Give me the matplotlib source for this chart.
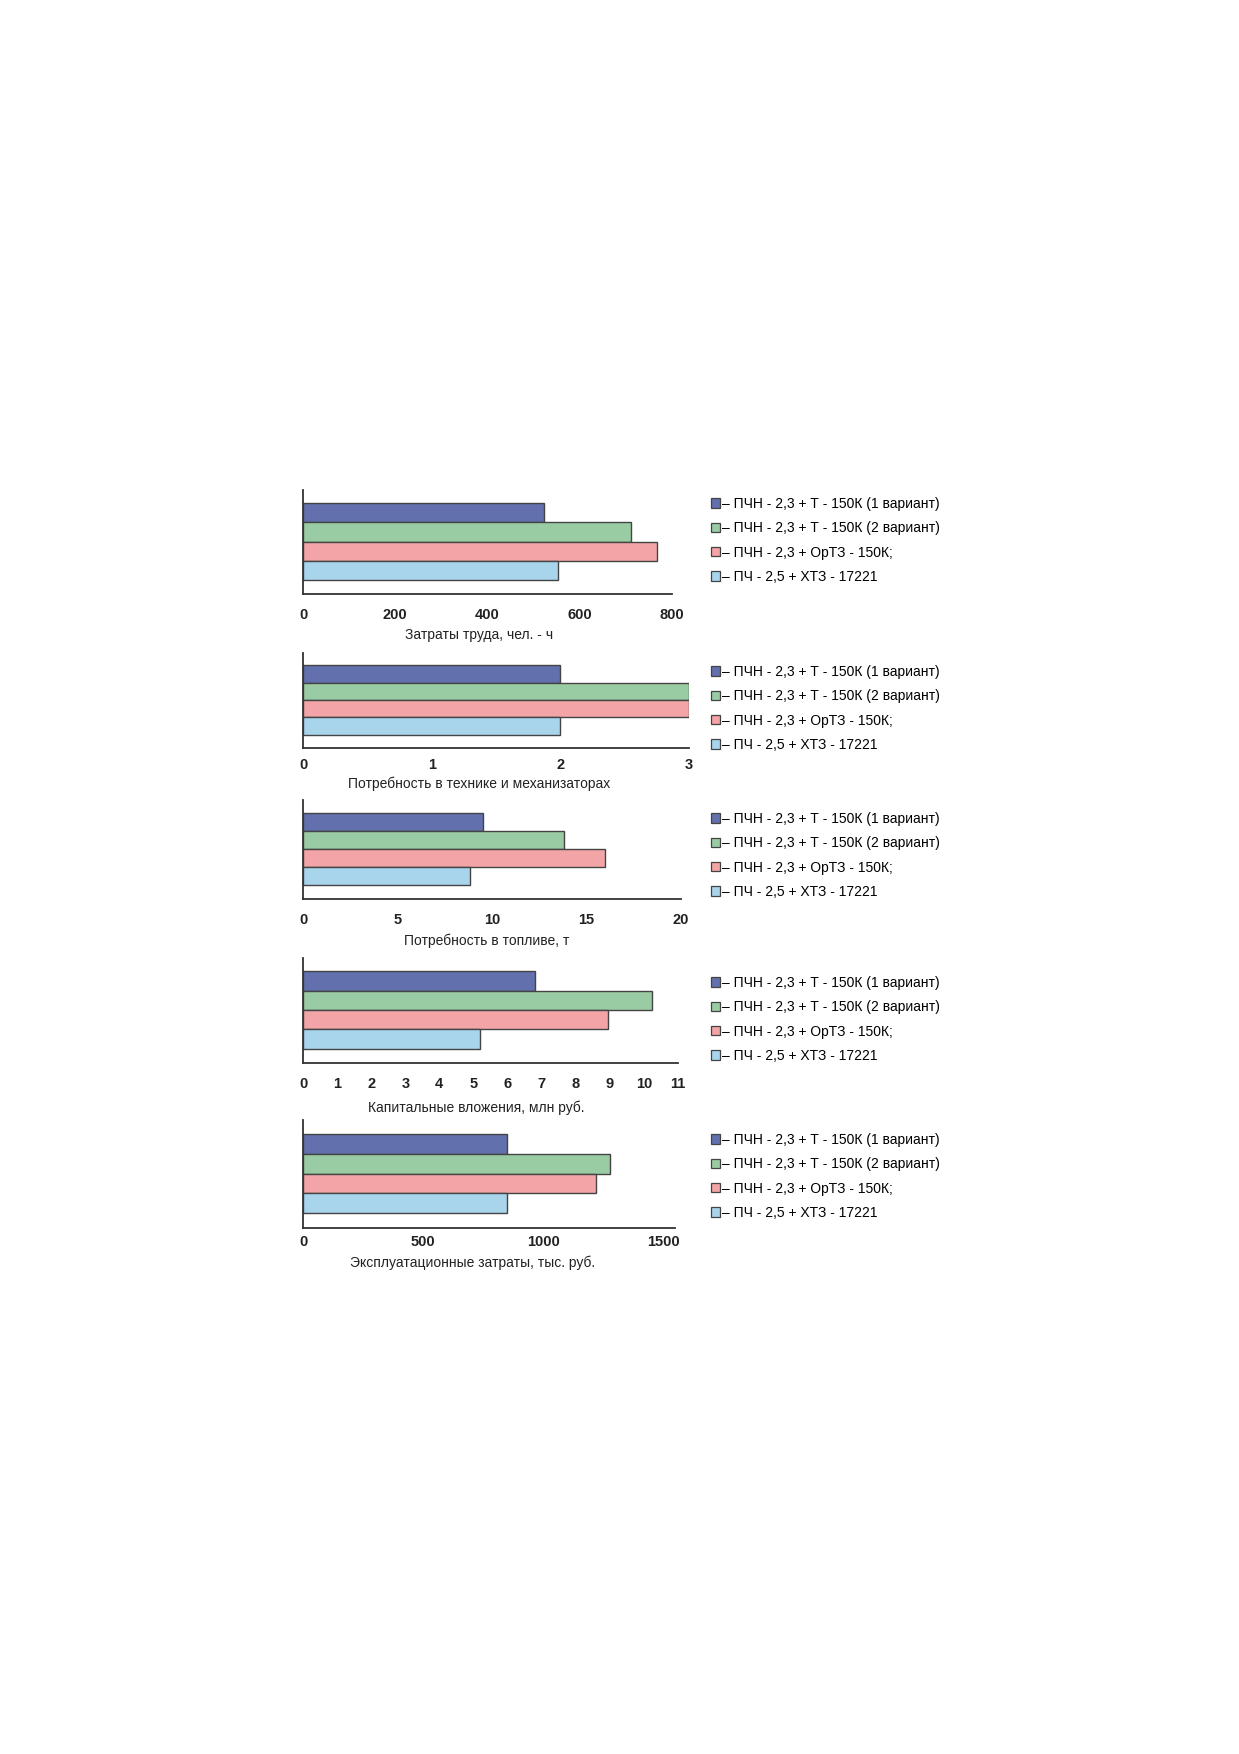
import matplotlib
matplotlib.use('Agg')
import matplotlib.pyplot as plt
from matplotlib.patches import Patch

plt.rcParams['font.family'] = ['Liberation Sans', 'DejaVu Sans']

# legend labels (same for every panel)
variants = ['– ПЧН - 2,3 + Т - 150К (1 вариант)',
            '– ПЧН - 2,3 + Т - 150К (2 вариант)',
            '– ПЧН - 2,3 + ОрТЗ - 150К;',
            '– ПЧ - 2,5 + ХТЗ - 17221']
colors = ['#6270ae', '#9acca3', '#f2a4a6', '#a8d4ec']

# values, one list per panel
labour = [523, 711, 768, 553]
machines = [2, 3, 3, 2]
fuel = [9.5, 13.8, 16.0, 8.85]
capital = [6.8, 10.25, 8.95, 5.2]
operating = [850, 1280, 1220, 850]

xlabels = ['Затраты труда, чел. - ч',
           'Потребность в технике и механизаторах',
           'Потребность в топливе, т',
           'Капитальные вложения, млн руб.',
           'Эксплуатационные затраты, тыс. руб.']
xticks = [[0, 200, 400, 600, 800],
          [0, 1, 2, 3],
          [0, 5, 10, 15, 20],
          list(range(0, 12)),
          [0, 500, 1000, 1500]]
xmax = [800, 3, 20, 11, 1550]

# layout in pixels of the 1239x1754 page: (top, x-axis, right end)
W, H = 1239, 1754
LEFT = 303
boxes = [(490, 594, 672), (653, 748, 689), (800, 899, 681),
         (958, 1063, 678), (1120, 1228, 675)]
xlabel_pos = [(479, 628), (479, 777), (487, 934), (476, 1101), (473, 1256)]
tick_pad = [10, 7.5, 10, 10, 5]
legend_top = [497, 665, 812, 976, 1133]

fig = plt.figure(figsize=(W / 100, H / 100), dpi=100)

data = [labour, machines, fuel, capital, operating]
for i, vals in enumerate(data):
    top, bot, right = boxes[i]
    ax = fig.add_axes([LEFT / W, 1 - bot / H, (right - LEFT) / W, (bot - top) / H])
    ax.patch.set_alpha(0)
    ypos = [3, 2, 1, 0]
    ax.barh(ypos, vals, height=1.0, align='edge', color=colors,
            edgecolor='#444444', linewidth=1.0)
    ax.set_ylim(-0.75, 4.7)
    ax.set_xlim(0, xmax[i])
    ax.set_xticks(xticks[i])
    ax.set_xticklabels([str(t) for t in xticks[i]], fontweight='bold',
                       fontsize=10.5, color='#222222')
    ax.tick_params(axis='x', length=0, pad=tick_pad[i])
    ax.set_yticks([])
    for s in ['top', 'right']:
        ax.spines[s].set_visible(False)
    for s in ['left', 'bottom']:
        ax.spines[s].set_color('#333333')
        ax.spines[s].set_linewidth(1.3)
    ax.set_xlabel(xlabels[i], fontsize=10, color='#222222')
    xc, yc = xlabel_pos[i]
    ax.xaxis.set_label_coords((xc - LEFT) / (right - LEFT), -(yc - bot) / (bot - top))

    handles = [Patch(facecolor=c, edgecolor='#444444', linewidth=0.9) for c in colors]
    fig.legend(handles, variants, loc='upper left',
               bbox_to_anchor=(711 / W, 1 - legend_top[i] / H),
               frameon=False, fontsize=10, handlelength=0.65, handleheight=0.65,
               handletextpad=0.15, labelspacing=0.74, borderpad=0, borderaxespad=0)

fig.savefig('out.png', dpi=100, facecolor='white')
